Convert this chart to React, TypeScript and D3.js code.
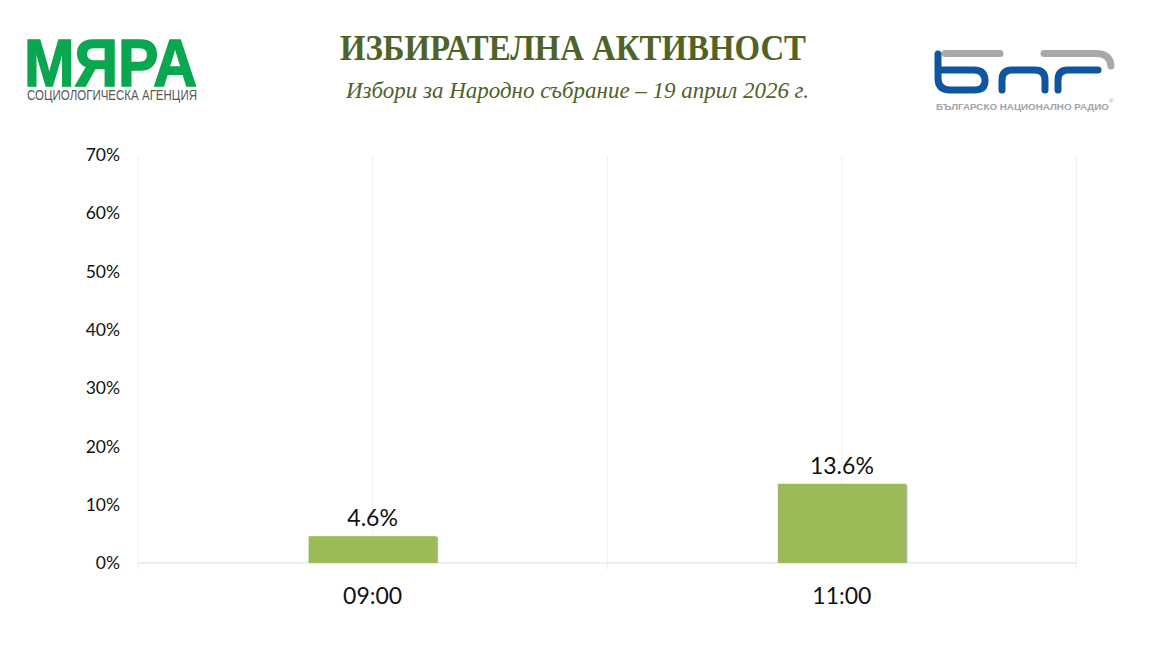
import React, { useEffect, useRef } from "react";
import * as d3 from "d3";

const hours = ["09:00", "11:00"];
const turnout = [4.6, 13.6];
const yTicks = [0, 10, 20, 30, 40, 50, 60, 70];

const title = "ИЗБИРАТЕЛНА АКТИВНОСТ";
const subtitle = "Избори за Народно събрание – 19 април 2026 г.";

const width = 1152;
const height = 648;
const margin = { top: 155, right: 75.5, bottom: 85, left: 138 };

const x = d3
	.scaleBand<string>()
	.domain(hours)
	.range([margin.left, width - margin.right]);
const y = d3
	.scaleLinear()
	.domain([0, 70])
	.range([height - margin.bottom, margin.top]);

const barWidth = x.bandwidth() * 0.273;
const gridColor = "#f0f0f0";
const sans = "Lato, 'Open Sans', sans-serif";
const serif = "'Liberation Serif', serif";

export default function App() {
	const yRef = useRef<SVGGElement>(null);
	const xRef = useRef<SVGGElement>(null);

	useEffect(() => {
		const yAxis = d3
			.axisLeft(y)
			.tickValues(yTicks)
			.tickSize(0)
			.tickPadding(18)
			.tickFormat((d) => `${d}%`);
		const yG = d3.select(yRef.current).call(yAxis as any);
		yG.select(".domain").remove();
		yG.selectAll("text").attr("font-family", sans).attr("font-size", 17.5).attr("fill", "#111");

		const xAxis = d3.axisBottom(x).tickSize(0).tickPadding(25);
		const xG = d3.select(xRef.current).call(xAxis as any);
		xG.select(".domain").remove();
		xG.selectAll("text").attr("font-family", sans).attr("font-size", 23).attr("fill", "#111");
	}, []);

	const edges = [margin.left, ...hours.map((h) => x(h)! + x.bandwidth())];

	return (
		<svg
			width={width}
			height={height}
			viewBox={`0 0 ${width} ${height}`}
			style={{ position: "absolute", left: 0, top: 0, background: "#fff" }}
		>
			{/* header */}
			<text x={573} y={60} textAnchor="middle" fontFamily={serif} fontWeight="bold" fontSize={35} fill="#4f6228" textLength={466} lengthAdjust="spacingAndGlyphs">
				{title}
			</text>
			<text x={577.5} y={98} textAnchor="middle" fontFamily={serif} fontStyle="italic" fontSize={23} fill="#4f6228" textLength={463} lengthAdjust="spacing">
				{subtitle}
			</text>

			{/* Мяра logo */}
			<text x={24} y={86} fontFamily="'Liberation Sans', sans-serif" fontWeight="bold" fontSize={66} fill="#0aa650" stroke="#0aa650" strokeWidth={1.5} textLength={173} lengthAdjust="spacingAndGlyphs">
				МЯРА
			</text>
			<text x={27} y={100} fontFamily="'Liberation Sans', sans-serif" fontSize={14.5} fill="#55585a" textLength={170} lengthAdjust="spacingAndGlyphs">
				СОЦИОЛОГИЧЕСКА АГЕНЦИЯ
			</text>

			{/* БНР logo */}
			<g fill="none" strokeLinecap="round" strokeWidth={7}>
				<path d="M945 53.5H1000M1044 53.5H1096Q1110 53.5 1111 66" stroke="#a7a9ac" />
				<path d="M938 54V78Q938 90 950 90H974Q985 90 985 81Q985 70 974 70H938" stroke="#0f56a0" />
				<path d="M1002 90V80Q1002 70 1012 70H1035Q1045 70 1045 80V90" stroke="#0f56a0" />
				<path d="M1058 90V80Q1058 70 1068 70H1098" stroke="#0f56a0" />
			</g>
			<text x={936} y={110} fontFamily="'Liberation Sans', sans-serif" fontWeight="bold" fontSize={9.5} fill="#a0a3a6" textLength={173} lengthAdjust="spacingAndGlyphs">
				БЪЛГАРСКО НАЦИОНАЛНО РАДИО
			</text>
			<text x={1109} y={103} fontFamily="'Liberation Sans', sans-serif" fontSize={6} fill="#a0a3a6">
				®
			</text>

			{/* grid */}
			{edges.map((e) => (
				<line key={e} x1={e} x2={e} y1={margin.top} y2={y(0) + 7} stroke={gridColor} />
			))}
			{hours.map((h) => (
				<line key={h} x1={x(h)! + x.bandwidth() / 2} x2={x(h)! + x.bandwidth() / 2} y1={margin.top} y2={y(0)} stroke={gridColor} />
			))}
			<line x1={margin.left} x2={width - margin.right} y1={y(0)} y2={y(0)} stroke="#e8e8e8" strokeWidth={1.5} />

			{/* bars */}
			{hours.map((h, i) => {
				const left = x(h)! + (x.bandwidth() - barWidth) / 2;
				return (
					<g key={h}>
						<rect x={left + 1.5} y={y(turnout[i]) + 1} width={barWidth} height={y(0) - y(turnout[i]) - 1} fill="#b4b4b4" />
						<rect x={left} y={y(turnout[i])} width={barWidth} height={y(0) - y(turnout[i])} fill="#9bbb59" />
						<text x={left + barWidth / 2} y={y(turnout[i]) - 10} textAnchor="middle" fontFamily={sans} fontSize={23} fill="#111">
							{turnout[i].toFixed(1)}%
						</text>
					</g>
				);
			})}

			<g ref={yRef} transform={`translate(${margin.left},0)`} />
			<g ref={xRef} transform={`translate(0,${y(0)})`} />
		</svg>
	);
}
